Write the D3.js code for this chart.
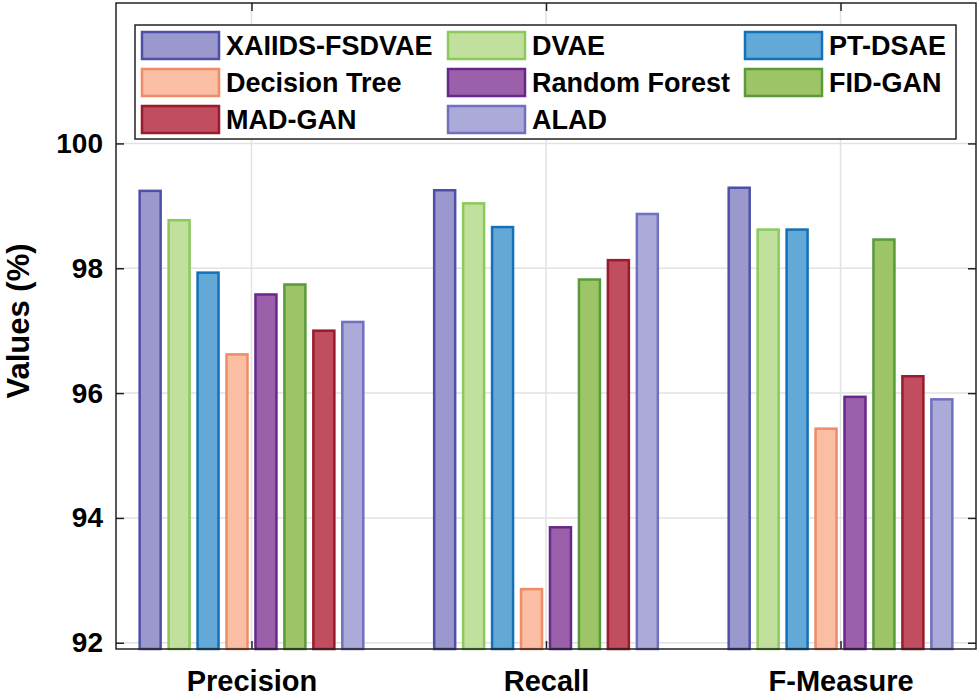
<!DOCTYPE html>
<html>
<head>
<meta charset="utf-8">
<script src="https://cdn.jsdelivr.net/npm/d3@7"></script>
<style>
  body { margin: 0; background: #fff; }
  text { font-family: "Liberation Sans", Arial, sans-serif; font-weight: bold; fill: #000; }
</style>
</head>
<body>
<svg id="chart" width="980" height="696"></svg>
<script>
const categories = ['Precision', 'Recall', 'F-Measure'];
const methods = ['XAIIDS-FSDVAE', 'DVAE', 'PT-DSAE', 'Decision Tree', 'Random Forest', 'FID-GAN', 'MAD-GAN', 'ALAD'];
const xaiids = [99.24, 99.25, 99.29];
const dvae = [98.77, 99.04, 98.62];
const ptdsae = [97.93, 98.66, 98.62];
const decisionTree = [96.62, 92.86, 95.43];
const randomForest = [97.58, 93.85, 95.94];
const fidgan = [97.74, 97.82, 98.46];
const madgan = [97.0, 98.13, 96.27];
const alad = [97.14, 98.87, 95.9];
const yTicks = [92, 94, 96, 98, 100];

const seriesValues = [xaiids, dvae, ptdsae, decisionTree, randomForest, fidgan, madgan, alad];
const fills = ['#9b98cd', '#c1e09e', '#63a9d7', '#f9bea4', '#9b60a9', '#9dc466', '#c14d61', '#abaad8'];
const strokes = ['#4e50a8', '#8bc95b', '#1470b7', '#ef8b66', '#66288b', '#599a3b', '#9a1b2b', '#6f70bf'];

const series = methods.map((m, i) => ({ name: m, values: seriesValues[i], fill: fills[i], stroke: strokes[i], idx: i }));

const svg = d3.select('#chart');
const mLeft = 116, mRight = 976, mTop = 3, mBottom = 649;

const x = d3.scaleLinear().domain([0.54, 3.46]).range([mLeft, mRight]);
const y = d3.scaleLinear().domain([91.9, 102.25]).range([mBottom, mTop]);
const step = 0.0983, barW = 21;

// grid
svg.append('g').selectAll('line').data(yTicks).enter().append('line')
  .attr('x1', mLeft).attr('x2', mRight)
  .attr('y1', d => y(d)).attr('y2', d => y(d))
  .attr('stroke', '#e2e2e2').attr('stroke-width', 1.5);
svg.append('g').selectAll('line').data(categories).enter().append('line')
  .attr('x1', (d, i) => x(i + 1)).attr('x2', (d, i) => x(i + 1))
  .attr('y1', mTop).attr('y2', mBottom)
  .attr('stroke', '#e2e2e2').attr('stroke-width', 1.5);

// bars
const bars = [];
series.forEach(s => s.values.forEach((v, c) => bars.push({ s, v, c })));
svg.append('g').selectAll('rect').data(bars).enter().append('rect')
  .attr('x', d => x(d.c + 1 + (d.s.idx - 3.5) * step) - barW / 2)
  .attr('width', barW)
  .attr('y', d => y(d.v))
  .attr('height', d => y(91.9) - y(d.v))
  .attr('fill', d => d.s.fill)
  .attr('stroke', d => d.s.stroke)
  .attr('stroke-width', 2.5);

// axes
const gy = svg.append('g').attr('transform', `translate(${mLeft},0)`)
  .call(d3.axisLeft(y).tickValues(yTicks).tickSize(-8).tickPadding(13).tickFormat(d3.format('d')));
gy.select('.domain').remove();
gy.selectAll('text').style('font-size', '28px');
const gyR = svg.append('g').attr('transform', `translate(${mRight},0)`)
  .call(d3.axisRight(y).tickValues(yTicks).tickSize(-8).tickFormat(''));
gyR.select('.domain').remove();

const gx = svg.append('g').attr('transform', `translate(0,${mBottom})`)
  .call(d3.axisBottom(x).tickValues([1, 2, 3]).tickSize(-8).tickPadding(21).tickFormat((d, i) => categories[i]));
gx.select('.domain').remove();
gx.selectAll('text').style('font-size', '29px');
const gxT = svg.append('g').attr('transform', `translate(0,${mTop})`)
  .call(d3.axisTop(x).tickValues([1, 2, 3]).tickSize(-8).tickFormat(''));
gxT.select('.domain').remove();
svg.selectAll('.tick line').attr('stroke', '#222').attr('stroke-width', 1.5);

svg.append('rect').attr('x', mLeft).attr('y', mTop)
  .attr('width', mRight - mLeft).attr('height', mBottom - mTop)
  .attr('fill', 'none').attr('stroke', '#222').attr('stroke-width', 1.5);

svg.append('text')
  .attr('transform', 'translate(29,321) rotate(-90)')
  .attr('text-anchor', 'middle')
  .style('font-size', '31px')
  .text('Values (%)');

// legend
const legend = svg.append('g');
legend.append('rect').attr('x', 135).attr('y', 25).attr('width', 821).attr('height', 114)
  .attr('fill', '#fff').attr('stroke', '#222').attr('stroke-width', 1.5);
const colX = [142, 448, 745];
const rowY = [45, 82, 119];
const items = legend.selectAll('g').data(series).enter().append('g')
  .attr('transform', (d, i) => `translate(${colX[i % 3]},${rowY[Math.floor(i / 3)]})`);
items.append('rect').attr('x', 0).attr('y', -13).attr('width', 77).attr('height', 27)
  .attr('fill', d => d.fill).attr('stroke', d => d.stroke).attr('stroke-width', 2.5);
items.append('text').attr('x', 84).attr('y', 0).attr('dy', '0.36em')
  .style('font-size', '27px').text(d => d.name);
</script>
</body>
</html>
